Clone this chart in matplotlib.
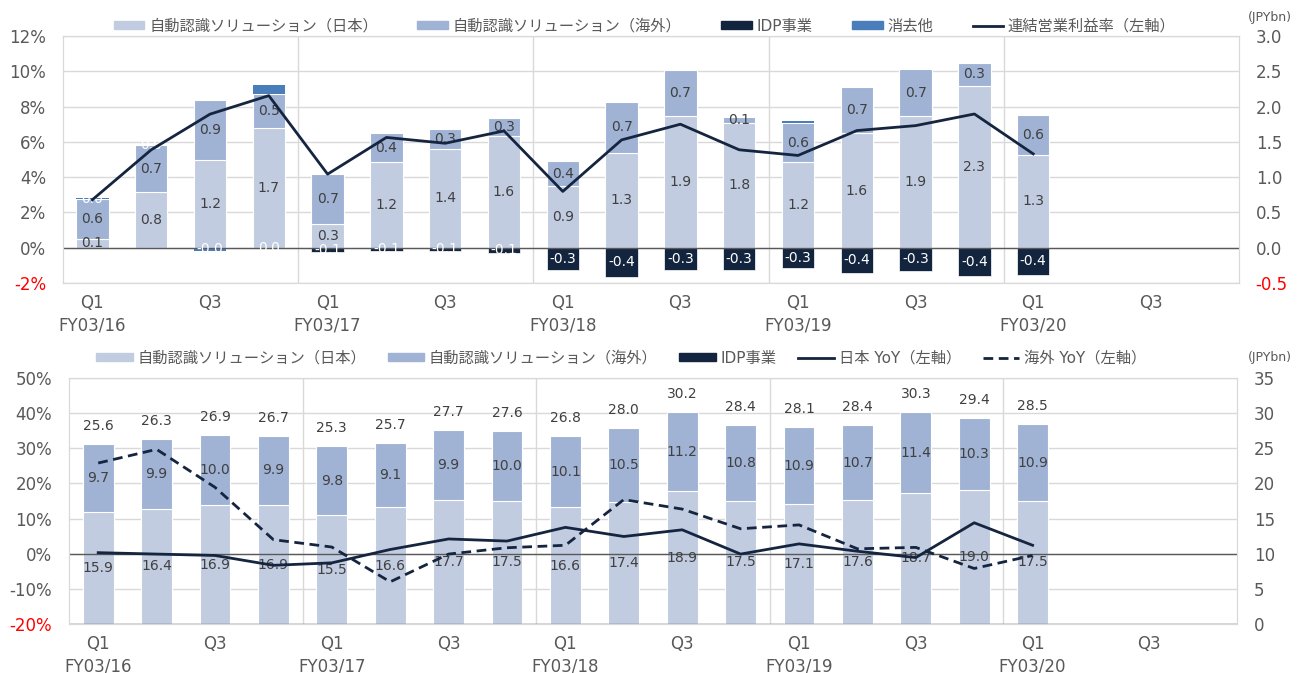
import matplotlib
matplotlib.use("Agg")
import matplotlib.pyplot as plt
from matplotlib.patches import Patch
from matplotlib.lines import Line2D
import numpy as np

plt.rcParams['font.family'] = ['DejaVu Sans', 'Noto Sans CJK JP']

# ---- data ----
xlabels = ['Q1\nFY03/16', 'Q3', 'Q1\nFY03/17', 'Q3', 'Q1\nFY03/18', 'Q3',
           'Q1\nFY03/19', 'Q3', 'Q1\nFY03/20', 'Q3']

# top: operating profit by segment (JPYbn), margin (%)
op_jp = [0.13, 0.79, 1.24, 1.70, 0.34, 1.22, 1.40, 1.58, 0.87, 1.34, 1.86, 1.77,
         1.21, 1.62, 1.86, 2.29, 1.32]
op_os = [0.56, 0.66, 0.86, 0.48, 0.71, 0.40, 0.28, 0.26, 0.36, 0.73, 0.66, 0.08,
         0.56, 0.66, 0.67, 0.33, 0.56]
op_idp = [0, 0, 0, 0, -0.06, -0.05, -0.05, -0.07, -0.31, -0.41, -0.32, -0.32,
          -0.29, -0.36, -0.33, -0.40, -0.38]
op_elim = [0.01, 0.01, -0.04, 0.13, 0, 0, 0, 0, 0, 0, 0, 0,
           0.03, 0, 0, 0, 0]
op_margin = [2.72, 5.55, 7.57, 8.62, 4.17, 6.25, 5.92, 6.62, 3.19, 6.11, 7.0, 5.55,
             5.23, 6.64, 6.92, 7.58, 5.32]

# bottom: sales by segment (JPYbn), YoY (%)
s_jp = [15.9, 16.4, 16.9, 16.9, 15.5, 16.6, 17.7, 17.5, 16.6, 17.4, 18.9, 17.5,
        17.1, 17.6, 18.7, 19.0, 17.5]
s_os = [9.7, 9.9, 10.0, 9.9, 9.8, 9.1, 9.9, 10.0, 10.1, 10.5, 11.2, 10.8,
        10.9, 10.7, 11.4, 10.3, 10.9]
s_total = [25.6, 26.3, 26.9, 26.7, 25.3, 25.7, 27.7, 27.6, 26.8, 28.0, 30.2, 28.4,
           28.1, 28.4, 30.3, 29.4, 28.5]
yoy_jp = [0.3, -0.1, -0.5, -3.3, -2.6, 1.2, 4.2, 3.6, 7.5, 4.9, 6.8, -0.1,
          2.8, 0.7, -1.1, 8.8, 2.4]
yoy_os = [25.8, 29.7, 18.9, 4.0, 1.9, -8.0, -0.1, 1.7, 2.4, 15.4, 12.7, 7.1,
          8.2, 1.4, 1.8, -4.2, -0.5]

C_JP = '#C1CCE1'
C_OS = '#A0B3D4'
C_IDP = '#13243F'
C_ELIM = '#4A7EBB'
C_LINE = '#15253F'
C_GRID = '#D9D9D9'
C_TXT = '#595959'
C_LAB = '#404040'

n = len(op_jp)
x = np.arange(n)
W = 1305
H = 673
fig = plt.figure(figsize=(W / 100, H / 100), dpi=100)


def style_axes(axL, axR, lticks, lfmt, rticks, rfmt):
    axR.set_xlim(-0.5, 19.5)
    axR.set_yticks(rticks)
    axR.set_yticklabels([rfmt(v) for v in rticks])
    axL.set_yticks(lticks)
    axL.set_yticklabels([lfmt(v) for v in lticks])
    axR.grid(axis='y', color=C_GRID, lw=1)
    axR.set_axisbelow(True)
    for a in (axL, axR):
        for s in a.spines.values():
            s.set_color(C_GRID)
        a.tick_params(length=0, labelsize=12, colors=C_TXT, pad=12)
    axL.tick_params(axis='x', pad=8)
    axL.get_yticklabels()[0].set_color('red')
    axR.get_yticklabels()[0].set_color('red')
    axL.set_xticks(np.arange(0, 20, 2))
    axL.set_xticklabels(xlabels, linespacing=1.3)
    for d in (3.5, 7.5, 11.5, 15.5):
        axR.axvline(d, color=C_GRID, lw=1, zorder=0.5)
    axR.axhline(0, color='#595959', lw=1, zorder=3)
    axL.set_zorder(axR.get_zorder() + 1)
    axL.patch.set_visible(False)


# ---------- top chart ----------
axT = fig.add_axes([63 / W, 1 - 283 / H, 1176 / W, 247 / H])
axTR = axT.twinx()
bw = 0.55
axTR.bar(x, op_jp, bw, color=C_JP, edgecolor='white', lw=0.8, zorder=2)
axTR.bar(x, op_os, bw, bottom=op_jp, color=C_OS, edgecolor='white', lw=0.8, zorder=2)
top_os = np.array(op_jp) + np.array(op_os)
elim = np.array(op_elim)
elim_bottom = np.where(elim > 0, top_os, 0)
axTR.bar(x, op_idp, bw, color=C_IDP, edgecolor='white', lw=0.5, zorder=2)
axTR.bar(x, op_elim, bw, bottom=elim_bottom, color=C_ELIM, edgecolor='none', zorder=2)
for i in range(n):
    axTR.text(x[i], op_jp[i] / 2, f'{op_jp[i]:.1f}', ha='center', va='center',
              fontsize=10, color=C_LAB, zorder=4)
    axTR.text(x[i], op_jp[i] + op_os[i] / 2, f'{op_os[i]:.1f}', ha='center',
              va='center', fontsize=10, color=C_LAB, zorder=4)
    if op_idp[i] != 0:
        axTR.text(x[i], op_idp[i] / 2, f'{op_idp[i]:.1f}', ha='center', va='center',
                  fontsize=10, color='white', zorder=4)
    if i < 4:
        # small white labels of the first fiscal year
        if op_elim[i] < 0:
            ly, lt = op_elim[i] / 2, f'{op_elim[i]:.1f}'
        elif op_elim[i] < 0.05:
            ly, lt = top_os[i] + op_elim[i] / 2, f'{op_elim[i]:.1f}'
        else:
            ly, lt = 0.0, f'{op_idp[i]:.1f}'
        axTR.text(x[i], ly, lt, ha='center', va='center', fontsize=10,
                  color='white', zorder=4)
axT.plot(x, op_margin, color=C_LINE, lw=2, zorder=5)
axT.set_ylim(-2, 12)
axTR.set_ylim(-0.5, 3.0)
style_axes(axT, axTR, np.arange(-2, 13, 2), lambda v: f'{v:.0f}%',
           np.arange(-0.5, 3.01, 0.5), lambda v: f'{v:.1f}')
fig.text(1270 / W, 1 - 17 / H, '(JPYbn)', ha='center', va='center', fontsize=9, color=C_TXT)

hT = [Patch(color=C_JP), Patch(color=C_OS), Patch(color=C_IDP), Patch(color=C_ELIM),
      Line2D([], [], color=C_LINE, lw=2)]
lT = ['自動認識ソリューション（日本）', '自動認識ソリューション（海外）', 'IDP事業', '消去他',
      '連結営業利益率（左軸）']
legT = fig.legend(hT, lT, loc='center', bbox_to_anchor=(0.494, 1 - 26 / H), ncol=5,
                  frameon=False, fontsize=11, handlelength=2, handleheight=0.5,
                  handletextpad=0.3, columnspacing=2.6)
for t in legT.get_texts():
    t.set_color(C_TXT)

# ---------- bottom chart ----------
axB = fig.add_axes([69 / W, 1 - 624 / H, 1168 / W, 246 / H])
axBR = axB.twinx()
bw2 = 0.53
axBR.bar(x, s_jp, bw2, color=C_JP, edgecolor='white', lw=0.8, zorder=2)
axBR.bar(x, s_os, bw2, bottom=s_jp, color=C_OS, edgecolor='white', lw=0.8, zorder=2)
for i in range(n):
    axBR.text(x[i], s_jp[i] / 2, f'{s_jp[i]:.1f}', ha='center', va='center',
              fontsize=10, color=C_LAB, zorder=4)
    axBR.text(x[i], s_jp[i] + s_os[i] / 2, f'{s_os[i]:.1f}', ha='center', va='center',
              fontsize=10, color=C_LAB, zorder=4)
    axBR.annotate(f'{s_total[i]:.1f}', (x[i], s_jp[i] + s_os[i]), xytext=(0, 13),
                  textcoords='offset points', ha='center', va='center', fontsize=10,
                  color=C_LAB, zorder=4)
axB.plot(x, yoy_jp, color=C_LINE, lw=2, zorder=5)
axB.plot(x, yoy_os, color=C_LINE, lw=2, ls=(0, (3.5, 2)), zorder=5)
axB.set_ylim(-20, 50)
axBR.set_ylim(0, 35)
style_axes(axB, axBR, np.arange(-20, 51, 10), lambda v: f'{v:.0f}%',
           np.arange(0, 36, 5), lambda v: f'{v:.0f}')
axBR.get_yticklabels()[0].set_color(C_TXT)
axBR.axhline(10, color='#595959', lw=1, zorder=3)
fig.text(1270 / W, 1 - 358 / H, '(JPYbn)', ha='center', va='center', fontsize=9, color=C_TXT)

hB = [Patch(color=C_JP), Patch(color=C_OS), Patch(color=C_IDP),
      Line2D([], [], color=C_LINE, lw=2), Line2D([], [], color=C_LINE, lw=2, ls=(0, (3.5, 2)))]
lB = ['自動認識ソリューション（日本）', '自動認識ソリューション（海外）', 'IDP事業',
      '日本 YoY（左軸）', '海外 YoY（左軸）']
legB = fig.legend(hB, lB, loc='center', bbox_to_anchor=(0.476, 1 - 358 / H), ncol=5,
                  frameon=False, fontsize=11, handlelength=2.4, handleheight=0.5,
                  handletextpad=0.3, columnspacing=1.4)
for t in legB.get_texts():
    t.set_color(C_TXT)

fig.savefig('out.png', dpi=100)
